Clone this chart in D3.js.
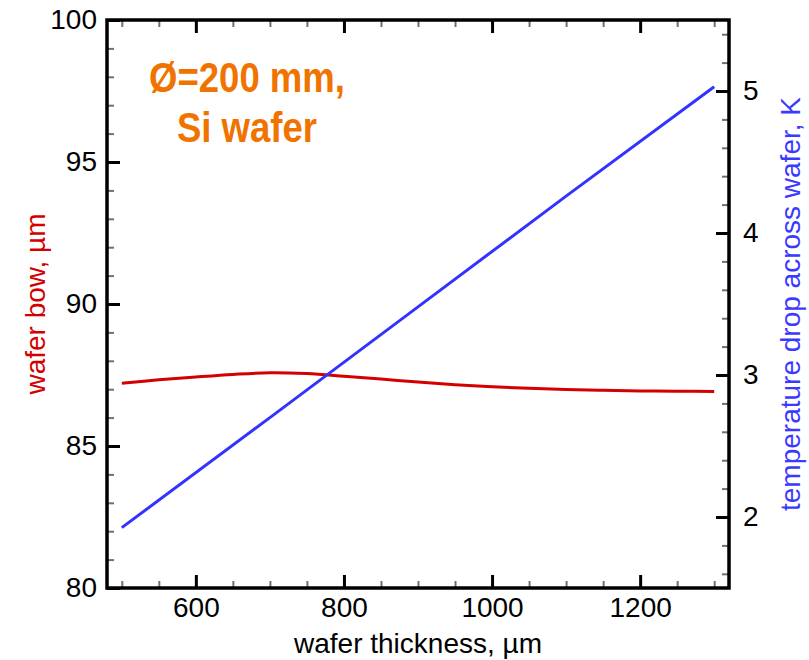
<!DOCTYPE html>
<html>
<head>
<meta charset="utf-8">
<script src="https://cdn.jsdelivr.net/npm/d3@7/dist/d3.min.js"></script>
<style>
  html, body { margin: 0; padding: 0; background: #fff; }
  svg { display: block; font-family: "Liberation Sans", Arial, Helvetica, sans-serif; }
</style>
</head>
<body>
<svg id="chart" width="809" height="660"></svg>
<script>
// ---- data ----
const thickness = [500, 550, 600, 650, 700, 750, 800, 850, 900, 950, 1000, 1050, 1100, 1150, 1200, 1250, 1300];
const waferBow  = [87.21, 87.33, 87.43, 87.52, 87.58, 87.55, 87.46, 87.36, 87.25, 87.16, 87.09, 87.03, 86.99, 86.96, 86.94, 86.93, 86.92];
const thicknessT = [500, 700, 900, 1100, 1300];
const tempDrop   = [1.925, 2.70, 3.48, 4.26, 5.03];
const xMajor = [600, 800, 1000, 1200];
const yLeftMajor = [80, 85, 90, 95, 100];
const yRightMajor = [2, 3, 4, 5];
const titleLines = ["Ø=200 mm,", "Si wafer"];

// ---- layout ----
const FONT = '"Liberation Sans", Arial, Helvetica, sans-serif';
const L = 107, R = 729, T = 20, B = 588;
const svg = d3.select("#chart");
const x = d3.scaleLinear().domain([480, 1320]).range([L, R]);
const yL = d3.scaleLinear().domain([80, 100]).range([B, T]);
const yR = d3.scaleLinear().domain([1.5, 5.5]).range([B, T]);

const xMinor = d3.range(500, 1301, 50).filter(v => !xMajor.includes(v));
const yLMinor = d3.range(80, 101, 1).filter(v => v % 5 !== 0);
const yRMinor = d3.range(1.6, 5.41, 0.2).map(v => +v.toFixed(1)).filter(v => Math.abs(v - Math.round(v)) > 1e-6);

function style(g, minor) {
  g.attr("font-family", FONT).attr("font-size", 28);
  g.select(".domain").remove();
  g.selectAll(".tick line").attr("stroke", minor ? "#707070" : "#000").attr("stroke-width", minor ? 2 : 3);
  g.selectAll(".tick text").attr("fill", "#000");
}

// minor ticks
svg.append("g").attr("transform", `translate(0,${B})`)
  .call(d3.axisBottom(x).tickValues(xMinor).tickSize(-7).tickFormat("")).call(g => style(g, true));
svg.append("g").attr("transform", `translate(0,${T})`)
  .call(d3.axisTop(x).tickValues(xMinor).tickSize(-7).tickFormat("")).call(g => style(g, true));
svg.append("g").attr("transform", `translate(${L},0)`)
  .call(d3.axisLeft(yL).tickValues(yLMinor).tickSize(-7).tickFormat("")).call(g => style(g, true));
svg.append("g").attr("transform", `translate(${R},0)`)
  .call(d3.axisRight(yR).tickValues(yRMinor).tickSize(-7).tickFormat("")).call(g => style(g, true));

// major ticks
svg.append("g").attr("transform", `translate(0,${B})`)
  .call(d3.axisBottom(x).tickValues(xMajor).tickSize(-13).tickPadding(9).tickFormat(d3.format("d"))).call(g => style(g, false));
svg.append("g").attr("transform", `translate(0,${T})`)
  .call(d3.axisTop(x).tickValues(xMajor).tickSize(-13).tickFormat("")).call(g => style(g, false));
svg.append("g").attr("transform", `translate(${L},0)`)
  .call(d3.axisLeft(yL).tickValues(yLeftMajor).tickSize(-13).tickPadding(10).tickFormat(d3.format("d"))).call(g => style(g, false));
svg.append("g").attr("transform", `translate(${R},0)`)
  .call(d3.axisRight(yR).tickValues(yRightMajor).tickSize(-13).tickPadding(14).tickFormat(d3.format("d"))).call(g => style(g, false));

// frame
svg.append("rect").attr("x", L).attr("y", T).attr("width", R - L).attr("height", B - T)
  .attr("fill", "none").attr("stroke", "#000").attr("stroke-width", 3.5);

// lines
const lineBow = d3.line().x(d => x(d[0])).y(d => yL(d[1])).curve(d3.curveCatmullRom.alpha(0.5));
svg.append("path").datum(thickness.map((t, i) => [t, waferBow[i]]))
  .attr("d", lineBow).attr("fill", "none").attr("stroke", "#d40000").attr("stroke-width", 3);

const lineT = d3.line().x(d => x(d[0])).y(d => yR(d[1]));
svg.append("path").datum(thicknessT.map((t, i) => [t, tempDrop[i]]))
  .attr("d", lineT).attr("fill", "none").attr("stroke", "#3333ff").attr("stroke-width", 3);

// axis titles
svg.append("text").attr("x", (L + R) / 2).attr("y", 653).attr("text-anchor", "middle")
  .attr("font-size", 28).attr("fill", "#000").text("wafer thickness, µm");
svg.append("text").attr("transform", `translate(45,${(T + B) / 2}) rotate(-90)`).attr("text-anchor", "middle")
  .attr("font-size", 28).attr("fill", "#d40000").text("wafer bow, µm");
svg.append("text").attr("transform", `translate(800,${(T + B) / 2}) rotate(-90)`).attr("text-anchor", "middle")
  .attr("font-size", 28).attr("fill", "#3a3aff").text("temperature drop across wafer, K");

// annotation
titleLines.forEach((s, i) => {
  svg.append("text")
    .attr("transform", `translate(247,${[92, 142][i]}) scale(0.87,1)`)
    .attr("text-anchor", "middle").attr("font-size", 42).attr("font-weight", "bold")
    .attr("fill", "#f07300").text(s);
});
</script>
</body>
</html>
